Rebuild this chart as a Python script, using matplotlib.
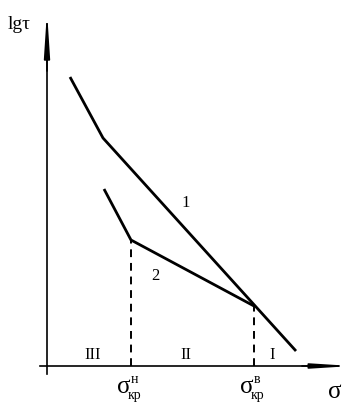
import matplotlib.pyplot as plt

# %% data (sigma, lg tau) in arbitrary units, origin at the axes crossing
line1_sigma = [2.3, 5.6, 24.9]
line1_lgtau = [28.9, 22.8, 1.5]
line2_sigma = [5.7, 8.4, 20.7]
line2_lgtau = [17.7, 12.6, 6.0]
sigma_crit = [8.4, 20.7]          # sigma_kr^n, sigma_kr^v
lgtau_crit = [12.6, 6.0]
zone_labels = ["III", "II", "I"]
zone_sigma = [4.6, 13.9, 22.5]
crit_sup = ["н", "в"]

# %% figure in pixel-like units
fig = plt.figure(figsize=(3.59, 4.06), dpi=100)
ax = fig.add_axes([0, 0, 1, 1])
ax.set_xlim(-4.7, 31.2)
ax.set_ylim(-3.9, 36.7)
ax.axis("off")
serif = ["Liberation Serif", "DejaVu Serif"]

# axes with arrows
ax.plot([-0.7, 27.0], [0, 0], color="black", lw=1.2)
ax.plot([0, 0], [-0.8, 31.0], color="black", lw=1.2)
ax.annotate("", xy=(30.5, 0), xytext=(25.5, 0),
            arrowprops=dict(arrowstyle="-|>,head_length=2.2,head_width=0.14",
                            color="black", lw=1.2, shrinkA=0, shrinkB=0))
ax.annotate("", xy=(0, 35.5), xytext=(0, 29.5),
            arrowprops=dict(arrowstyle="-|>,head_length=2.6,head_width=0.17",
                            color="black", lw=1.2, shrinkA=0, shrinkB=0))

# curves
ax.plot(line1_sigma, line1_lgtau, color="black", lw=2.0, solid_capstyle="butt")
ax.plot(line2_sigma, line2_lgtau, color="black", lw=2.0, solid_capstyle="butt")

# dashed verticals
for s, t in zip(sigma_crit, lgtau_crit):
    ax.plot([s, s], [0, t], color="black", lw=1.4, ls=(0, (4, 3)))

# curve labels
ax.text(13.9, 16.4, "1", fontsize=12, family=serif, ha="center", va="center")
ax.text(10.8, 9.1, "2", fontsize=12, family=serif, ha="center", va="center")

# zone labels
for lab, s in zip(zone_labels, zone_sigma):
    ax.text(s, 1.2, lab, fontsize=12, family=serif, ha="center", va="center")

# sigma critical labels
for s, sup in zip(sigma_crit, crit_sup):
    ax.text(s - 0.1, -2.0, "σ", fontsize=18, family=serif, ha="right", va="center")
    ax.text(s + 0.0, -1.3, sup, fontsize=10, family=serif, ha="left", va="center")
    ax.text(s - 0.3, -2.9, "кр", fontsize=10, family=serif, ha="left", va="center")

# axis labels
ax.text(28.8, -2.5, "σ", fontsize=18, family=serif, ha="center", va="center")
ax.text(-2.8, 34.3, "lgτ", fontsize=14, family=serif, ha="center", va="center")

plt.savefig("out.png", dpi=100)
